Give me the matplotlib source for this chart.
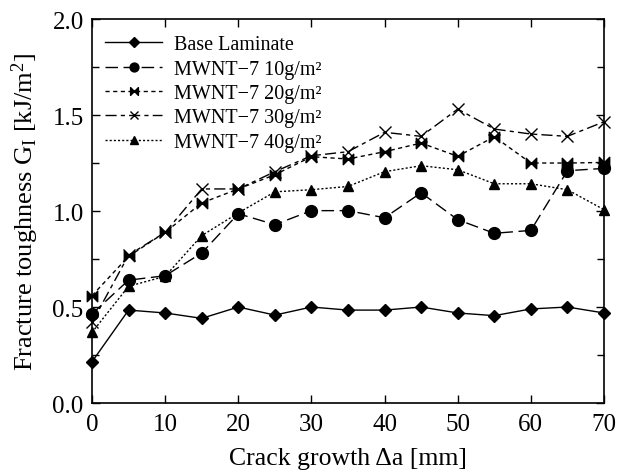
import matplotlib
matplotlib.use("Agg")
import matplotlib.pyplot as plt
from matplotlib.path import Path
from matplotlib.ticker import MultipleLocator, FormatStrFormatter

plt.rcParams['font.family'] = ['Liberation Serif', 'DejaVu Serif']
plt.rcParams['mathtext.fontset'] = 'custom'
plt.rcParams['mathtext.rm'] = 'Liberation Serif'
plt.rcParams['mathtext.it'] = 'Liberation Serif:italic'

x = [0, 5, 10, 15, 20, 25, 30, 35, 40, 45, 50, 55, 60, 65, 70]
base = [0.215, 0.484, 0.469, 0.441, 0.50, 0.458, 0.50, 0.484, 0.484, 0.50, 0.469, 0.455, 0.49, 0.50, 0.469]
mw10 = [0.464, 0.64, 0.663, 0.781, 0.986, 0.929, 1.002, 1.002, 0.965, 1.095, 0.955, 0.884, 0.899, 1.21, 1.222]
mw20 = [0.559, 0.764, 0.889, 1.042, 1.115, 1.189, 1.283, 1.271, 1.309, 1.354, 1.285, 1.387, 1.25, 1.25, 1.253]
mw30 = [0.42, 0.77, 0.889, 1.115, 1.115, 1.205, 1.288, 1.309, 1.41, 1.389, 1.531, 1.427, 1.401, 1.389, 1.465]
mw40 = [0.368, 0.608, 0.66, 0.872, 0.99, 1.10, 1.111, 1.128, 1.205, 1.236, 1.215, 1.142, 1.142, 1.111, 1.007]

labels = ["Base Laminate", "MWNT\u22127 10g/m\u00b2", "MWNT\u22127 20g/m\u00b2",
          "MWNT\u22127 30g/m\u00b2", "MWNT\u22127 40g/m\u00b2"]

bowtie = Path([(-1, -1), (0, 0), (-1, 1), (-1, -1), (1, -1), (0, 0), (1, 1), (1, -1)],
              [Path.MOVETO, Path.LINETO, Path.LINETO, Path.CLOSEPOLY,
               Path.MOVETO, Path.LINETO, Path.LINETO, Path.CLOSEPOLY])

fig = plt.figure(figsize=(6.38, 4.77), dpi=100)
ax = fig.add_axes([0.1442, 0.153, 0.8025, 0.805])

lw = 1.0
ax.plot(x, base, color='black', ls='-', lw=lw, marker='D', ms=6.5, label=labels[0], clip_on=False)
ax.plot(x, mw10, color='black', ls=(0, (9, 4)), lw=lw, marker='o', ms=8.5, label=labels[1], clip_on=False)
ax.plot(x, mw20, color='black', ls=(0, (3, 2.5)), lw=lw, marker=bowtie, ms=7.5, label=labels[2], clip_on=False)
ax.plot(x, mw30, color='black', ls=(0, (8, 3, 3, 3)), lw=lw, marker='x', ms=8.5, mew=1.0, label=labels[3], clip_on=False)
ax.plot(x, mw40, color='black', ls=(0, (1.5, 1.5)), lw=lw, marker='^', ms=7, label=labels[4], clip_on=False)

ax.set_xlim(0, 70)
ax.set_ylim(0, 2.0)
ax.xaxis.set_major_locator(MultipleLocator(10))
ax.yaxis.set_major_locator(MultipleLocator(0.5))
ax.yaxis.set_minor_locator(MultipleLocator(0.25))
ax.yaxis.set_major_formatter(FormatStrFormatter('%.1f'))
ax.tick_params(which='both', direction='in', top=True, right=True, labelsize=18, width=1.0)
ax.tick_params(which='major', length=6)
ax.tick_params(which='minor', length=5)
ax.tick_params(axis='x', pad=7)
ax.tick_params(axis='y', pad=6)
for s in ax.spines.values():
    s.set_linewidth(1.2)

ax.set_xlabel("Crack growth \u0394a [mm]", fontsize=18.5, labelpad=9)
ax.set_ylabel("Fracture toughness G$_{\\rm I}$ [kJ/m$^2$]", fontsize=19, labelpad=8)

leg = ax.legend(loc='upper left', frameon=False, fontsize=14.5, handlelength=2.85,
                handletextpad=0.55, labelspacing=0.26, borderaxespad=0.4,
                borderpad=0.4, markerscale=0.75, bbox_to_anchor=(-0.006, 1.0))

fig.savefig("out.png", dpi=100)
